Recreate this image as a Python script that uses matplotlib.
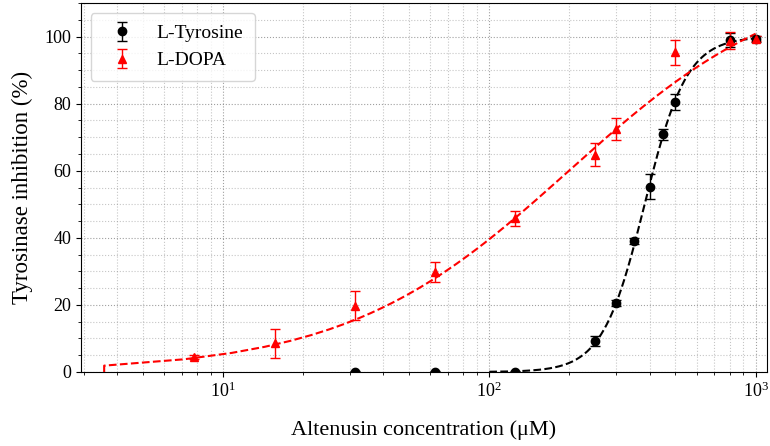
import numpy as np
import matplotlib
matplotlib.use("Agg")
import matplotlib.pyplot as plt
from matplotlib.ticker import MultipleLocator

plt.rcParams["font.family"] = ["Liberation Serif", "DejaVu Serif"]
plt.rcParams["mathtext.fontset"] = "stix"

# Measured data (concentration in uM, inhibition in %)
tyr_conc = [31.25, 62.5, 125, 250, 300, 350, 400, 450, 500, 800, 1000]
tyr_inhib = [0.0, 0.0, 0.0, 9.2, 20.6, 39.1, 55.2, 70.9, 80.5, 99.0, 99.3]
tyr_err = [0.3, 0.3, 0.3, 1.6, 0.8, 0.8, 3.7, 1.7, 2.3, 2.0, 0.8]

dopa_conc = [7.8125, 15.625, 31.25, 62.5, 125, 250, 300, 500, 800, 1000]
dopa_inhib = [4.4, 8.5, 19.8, 29.9, 45.8, 64.8, 72.4, 95.3, 98.8, 99.4]
dopa_err = [0.6, 4.3, 4.4, 3.0, 2.2, 3.4, 3.2, 3.7, 2.6, 0.8]

# Hill fit parameters: top, IC50, slope
tyr_fit = (100.0, 383.0, 5.5)
dopa_fit = (120.0, 199.0, 1.03)


def hill(x, top, ic50, n):
    x = np.asarray(x, dtype=float)
    return top * x ** n / (ic50 ** n + x ** n)


# fit curves sampled on a linear grid; x=0 is pinned to the first
# positive sample so it shows on the log axis
x_dopa = np.linspace(0, 1000, 280)
y_dopa = hill(x_dopa, *dopa_fit)
x_dopa = np.maximum(x_dopa, x_dopa[1])
x_tyr = np.linspace(100, 1000, 250)
y_tyr = hill(x_tyr, *tyr_fit)

fig, ax = plt.subplots(figsize=(7.7, 4.46), dpi=100)
fig.subplots_adjust(left=0.105, right=0.9957, bottom=0.166, top=0.993)

ax.errorbar(tyr_conc, tyr_inhib, yerr=tyr_err, fmt="o", color="black",
            markersize=6, capsize=3.5, elinewidth=1, label="L-Tyrosine", zorder=3)
ax.errorbar(dopa_conc, dopa_inhib, yerr=dopa_err, fmt="^", color="red",
            markersize=6, capsize=3.5, elinewidth=1, label="L-DOPA", zorder=3)
ax.plot(x_tyr, y_tyr, "--", color="black", linewidth=1.5, zorder=2)
ax.plot(x_dopa, y_dopa, "--", color="red", linewidth=1.5, zorder=2)

ax.set_xscale("log")
ax.set_xlim(2.93, 1100)
ax.set_ylim(0, 110)
ax.yaxis.set_major_locator(MultipleLocator(20))
ax.yaxis.set_minor_locator(MultipleLocator(5))
ax.tick_params(axis="both", which="major", labelsize=13)

ax.grid(True, which="major", linestyle=":", color="gray", alpha=0.75)
ax.grid(True, which="minor", linestyle=":", color="gray", alpha=0.45)

ax.set_xlabel("Altenusin concentration (μM)", fontsize=16, labelpad=14)
ax.set_ylabel("Tyrosinase inhibition (%)", fontsize=16.5, labelpad=8)
ax.legend(loc="upper left", fontsize=14, borderpad=0.6)

fig.savefig("out.png", dpi=100)
